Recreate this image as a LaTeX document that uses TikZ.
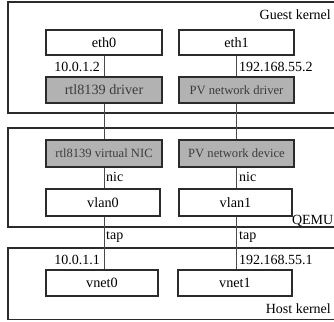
\documentclass[tikz,border=0pt]{standalone}
\usepackage{fontspec}
\setmainfont{Liberation Serif}
\usepackage{tikz}
\definecolor{edge}{HTML}{2B2B2B}
\definecolor{wire}{HTML}{4A4A4A}
\definecolor{shade}{HTML}{B2B2B2}
\definecolor{shadetext}{HTML}{3C3C3C}
\tikzset{
  layer/.style={draw=edge, line width=1.3pt},
  plainbox/.style={draw=edge, line width=1.2pt, fill=white, inner sep=0pt,
    font=\fontsize{14.2}{16}\selectfont},
  greybox/.style={draw=edge, line width=1.2pt, fill=shade, inner sep=0pt,
    text=shadetext, font=\fontsize{12.6}{14}\selectfont},
  wirelink/.style={draw=wire, line width=0.8pt},
  tag/.style={inner sep=1pt, font=\fontsize{14}{16}\selectfont},
  layername/.style={inner sep=0pt, font=\fontsize{14}{16}\selectfont}
}
\begin{document}
\begin{tikzpicture}[x=1pt, y=-1pt]
  \useasboundingbox (0,0) rectangle (334,321);
  \begin{scope}
    \clip (0,0) rectangle (334,321);
    % layer frames, open to the right
    \draw[layer] (8,2) rectangle (345,113);
    \draw[layer] (8,128) rectangle (345,227);
    \draw[layer] (8,248) rectangle (345,319.5);
  \end{scope}
  \node[layername, anchor=base east] (qemu) at (333.5,224) {QEMU};

  % guest kernel
  \node[plainbox, minimum width=116pt, minimum height=25pt] (eth0) at (104,42.5) {eth0};
  \node[plainbox, minimum width=115pt, minimum height=25pt] (eth1) at (236.5,42.5) {eth1};
  \node[greybox, minimum width=116pt, minimum height=26pt, font=\fontsize{14.2}{16}\selectfont] (drv0) at (104,90) {rtl8139 driver};
  \node[greybox, minimum width=115pt, minimum height=26pt] (drv1) at (236.5,90) {PV network driver};

  % QEMU
  \node[greybox, minimum width=116pt, minimum height=27pt] (nic0) at (104,153.5) {rtl8139 virtual NIC};
  \node[greybox, minimum width=115pt, minimum height=27pt] (nic1) at (236.5,153.5) {PV network device};
  \node[plainbox, minimum width=114pt, minimum height=27pt] (vlan0) at (103,202.5) {vlan0};
  \node[plainbox, minimum width=113pt, minimum height=27pt] (vlan1) at (235.5,202.5) {vlan1};

  % host kernel
  \node[plainbox, minimum width=112pt, minimum height=26pt] (vnet0) at (102,283) {vnet0};
  \node[plainbox, minimum width=114pt, minimum height=26pt] (vnet1) at (235,283) {vnet1};

  % connectors, kept on the column of the top box
  \draw[wirelink] (eth0.south) -- (eth0.south |- drv0.north);
  \draw[wirelink] (eth0.south |- drv0.south) -- (eth0.south |- nic0.north);
  \draw[wirelink] (eth0.south |- nic0.south) -- (eth0.south |- vlan0.north);
  \draw[wirelink] (eth0.south |- vlan0.south) -- (eth0.south |- vnet0.north);
  \draw[wirelink] (eth1.south) -- (eth1.south |- drv1.north);
  \draw[wirelink] (eth1.south |- drv1.south) -- (eth1.south |- nic1.north);
  \draw[wirelink] (eth1.south |- nic1.south) -- (eth1.south |- vlan1.north);
  \draw[wirelink] (eth1.south |- vlan1.south) -- (eth1.south |- vnet1.north);

  % labels
  \node[tag, anchor=east] (ip0) at (101,67) {10.0.1.2};
  \node[tag, anchor=west] (ip1) at (238,67) {192.168.55.2};
  \node[tag, anchor=west] (nicl0) at (105,177) {nic};
  \node[tag, anchor=west] (nicl1) at (238,177) {nic};
  \node[tag, anchor=west] (tap0) at (105,237) {tap};
  \node[tag, anchor=west] (tap1) at (238,237) {tap};
  \node[tag, anchor=east] (hip0) at (101,260) {10.0.1.1};
  \node[tag, anchor=west] (hip1) at (238,260) {192.168.55.1};

  \node[layername, anchor=east] (guest) at (331,15) {Guest kernel};
  \node[layername, anchor=east] (host) at (331,309) {Host kernel};
\end{tikzpicture}
\end{document}
